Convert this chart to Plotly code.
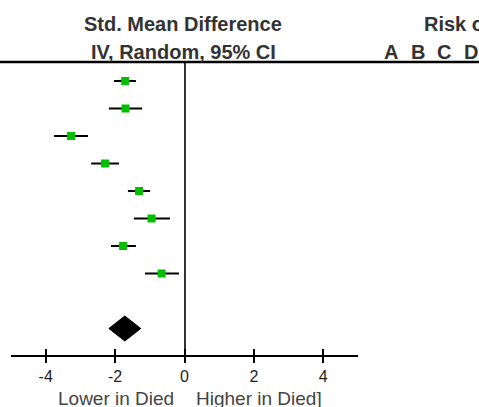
import plotly.graph_objects as go

# Per-study standardized mean differences with 95% CI (IV, random effects)
study_rows = [1, 2, 3, 4, 5, 6, 7, 8]
smd = [-1.71, -1.70, -3.27, -2.29, -1.31, -0.95, -1.77, -0.66]
ci_low = [-2.03, -2.18, -3.76, -2.69, -1.63, -1.46, -2.12, -1.14]
ci_high = [-1.40, -1.22, -2.78, -1.89, -0.99, -0.42, -1.40, -0.16]

# Pooled estimate
pooled_row = 10
pooled_est = -1.72
pooled_low = -2.18
pooled_high = -1.26

tick_vals = [-4, -2, 0, 2, 4]
tick_text = ["-4", "-2", "0", "2", "4"]
bias_letters = ["A", "B", "C", "D", "E", "F", "G"]

W, H = 479, 407
FONT = "Liberation Sans, Arial, sans-serif"

# plot area in pixels
x_left, x_right = 11, 358
y_top, y_bottom = 62, 355
row_px0, row_step = 53.5, 27.5  # pixel = row_px0 + row_step * row


def py(px):
    return (H - px) / H


fig = go.Figure()

# study estimates with CI whiskers
fig.add_trace(go.Scatter(
    x=smd, y=study_rows, mode="markers",
    marker=dict(symbol="square", size=8, color="#00C000", line=dict(width=0)),
    error_x=dict(type="data", symmetric=False,
                 array=[h - e for h, e in zip(ci_high, smd)],
                 arrayminus=[e - l for e, l in zip(smd, ci_low)],
                 color="black", thickness=2, width=0),
    hoverinfo="skip", showlegend=False,
))

# pooled diamond
half_h = 12.5 / row_step
fig.add_trace(go.Scatter(
    x=[pooled_low, pooled_est, pooled_high, pooled_est, pooled_low],
    y=[pooled_row, pooled_row - half_h, pooled_row, pooled_row + half_h, pooled_row],
    mode="lines", fill="toself", fillcolor="black",
    line=dict(color="black", width=1),
    hoverinfo="skip", showlegend=False,
))

# second axis carrying the upward half of each tick mark
fig.add_trace(go.Scatter(x=[None], y=[None], xaxis="x2", showlegend=False,
                         hoverinfo="skip"))

axis_common = dict(
    domain=[x_left / W, x_right / W], range=[-5, 5],
    tickvals=tick_vals, showgrid=False,
)
fig.update_layout(
    width=W, height=H,
    margin=dict(l=0, r=0, t=0, b=0),
    paper_bgcolor="white", plot_bgcolor="white",
    font=dict(family=FONT, color="#222"),
    xaxis=dict(
        **axis_common, ticktext=tick_text,
        showline=True, linecolor="black", linewidth=2,
        ticks="outside", ticklen=6, tickwidth=2, tickcolor="black",
        tickfont=dict(size=16, color="#222", family=FONT),
        zeroline=True, zerolinecolor="#333", zerolinewidth=2,
        fixedrange=True,
    ),
    xaxis2=dict(
        **axis_common, overlaying="x", anchor="y", side="bottom",
        showticklabels=False, showline=False, zeroline=False,
        ticks="inside", ticklen=6, tickwidth=2, tickcolor="black",
    ),
    yaxis=dict(
        domain=[py(y_bottom), py(y_top)],
        range=[(y_bottom - row_px0) / row_step, (y_top - row_px0) / row_step],
        visible=False, showgrid=False, zeroline=False,
    ),
)

# rule above the study rows
fig.add_shape(type="line", xref="paper", yref="paper",
              x0=0, x1=1, y0=py(y_top), y1=py(y_top),
              line=dict(color="black", width=2.5))

header_font = dict(family=FONT, size=20, color="#333")
fig.add_annotation(text="<b>Std. Mean Difference</b>", xref="paper", yref="paper",
                   x=183 / W, y=py(24), xanchor="center", yanchor="middle",
                   showarrow=False, font=header_font)
fig.add_annotation(text="<b>IV, Random, 95% CI</b>", xref="paper", yref="paper",
                   x=183 / W, y=py(52), xanchor="center", yanchor="middle",
                   showarrow=False, font=header_font)
fig.add_annotation(text="<b>Risk of Bias</b>", xref="paper", yref="paper",
                   x=422 / W, y=py(24), xanchor="left", yanchor="middle",
                   showarrow=False, font=header_font)
for i, letter in enumerate(bias_letters):
    fig.add_annotation(text=f"<b>{letter}</b>", xref="paper", yref="paper",
                       x=(391 + 26.7 * i) / W, y=py(52), xanchor="center",
                       yanchor="middle", showarrow=False, font=header_font)

# direction labels under the axis
dir_font = dict(family=FONT, size=19, color="#444")
fig.add_annotation(text="Lower in Died", xref="x", yref="paper", x=0, y=py(398),
                   xanchor="right", yanchor="middle", xshift=-9,
                   showarrow=False, font=dir_font)
fig.add_annotation(text="Higher in Died]", xref="x", yref="paper", x=0, y=py(398),
                   xanchor="left", yanchor="middle", xshift=9,
                   showarrow=False, font=dir_font)

fig.write_html("out.html")
